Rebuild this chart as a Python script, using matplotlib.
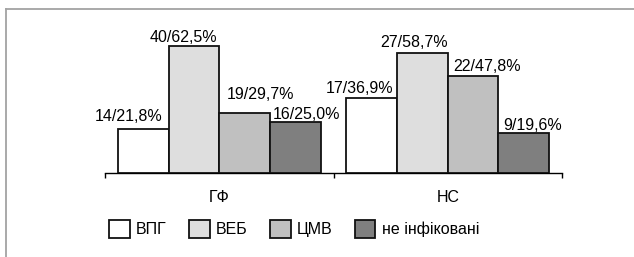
import numpy as np
import matplotlib
matplotlib.use("Agg")
import matplotlib.pyplot as plt
from matplotlib.lines import Line2D

plt.rcParams['font.family'] = ['Liberation Sans', 'DejaVu Sans']

groups = ["ГФ", "НС"]
series = ["ВПГ", "ВЕБ", "ЦМВ", "не інфіковані"]
# percent values per series, one per group
pct = {
    "ВПГ": [21.8, 36.9],
    "ВЕБ": [62.5, 58.7],
    "ЦМВ": [29.7, 47.8],
    "не інфіковані": [25.0, 19.6],
}
labels = {
    "ВПГ": ["14/21,8%", "17/36,9%"],
    "ВЕБ": ["40/62,5%", "27/58,7%"],
    "ЦМВ": ["19/29,7%", "22/47,8%"],
    "не інфіковані": ["16/25,0%", "9/19,6%"],
}
colors = ["#ffffff", "#dedede", "#c0c0c0", "#7f7f7f"]

# hand placement of the value labels (pixels): horizontal shift from the
# anchoring bar edge and height of the text baseline above the bar top
label_dx = {"ВПГ": [-6, -4], "ВЕБ": [-2, 0], "ЦМВ": [7, 5], "не інфіковані": [3, 5]}
label_dy = {"ВПГ": [7.5, 5], "ВЕБ": [4, 6], "ЦМВ": [14, 5], "не інфіковані": [3.5, 3.7]}

W, H = 634, 257
px = 0.72  # one pixel in points at dpi 100
fig = plt.figure(figsize=(W / 100, H / 100), dpi=100)
ax = fig.add_axes([105 / W, 83.7 / H, 457 / W, 142.9 / H])

x = np.arange(len(groups))
w = 0.222
fs = 11.5
for i, s in enumerate(series):
    pos = x + (i - 1.5) * w
    bars = ax.bar(pos, pct[s], width=w, color=colors[i], edgecolor="#111111",
                  linewidth=1.3, label=s, zorder=3)
    for j, (b, txt) in enumerate(zip(bars, labels[s])):
        # first two series end at the bar's right edge, the rest start at its left edge
        if i < 2:
            xt, ha = b.get_x() + b.get_width(), "right"
        else:
            xt, ha = b.get_x(), "left"
        ax.annotate(txt, (xt, b.get_height()),
                    xytext=(label_dx[s][j] * px, label_dy[s][j] * px),
                    textcoords="offset points", ha=ha, va="baseline", fontsize=fs)

ax.set_xlim(-0.5, 1.5)
ax.set_ylim(0, 70)
for sp in ["top", "right", "left"]:
    ax.spines[sp].set_visible(False)
ax.spines["bottom"].set_linewidth(1.0)
ax.set_yticks([])
ax.set_xticks([-0.5, 0.5, 1.5])
ax.set_xticklabels([])
ax.tick_params(axis="x", which="major", direction="out", length=3.8, width=1.0)
ax.set_xticks(x, minor=True)
ax.set_xticklabels(groups, minor=True, fontsize=fs)
ax.tick_params(axis="x", which="minor", length=0, pad=12)

fig.legend(loc="center left", bbox_to_anchor=(109 / W, (H - 229) / H),
           ncol=4, frameon=False, fontsize=fs, borderpad=0, borderaxespad=0,
           handlelength=1.3, handleheight=1.4, handletextpad=0.38,
           columnspacing=1.4)

# grey frame around the picture
fc = "#a3a3a3"
fig.add_artist(Line2D([6.3 / W, 1], [1 - 8.7 / H, 1 - 8.7 / H], color=fc, lw=1.3))
fig.add_artist(Line2D([6.3 / W, 6.3 / W], [0, 1 - 8.7 / H], color=fc, lw=1.3))

fig.savefig("out.png", dpi=100)
